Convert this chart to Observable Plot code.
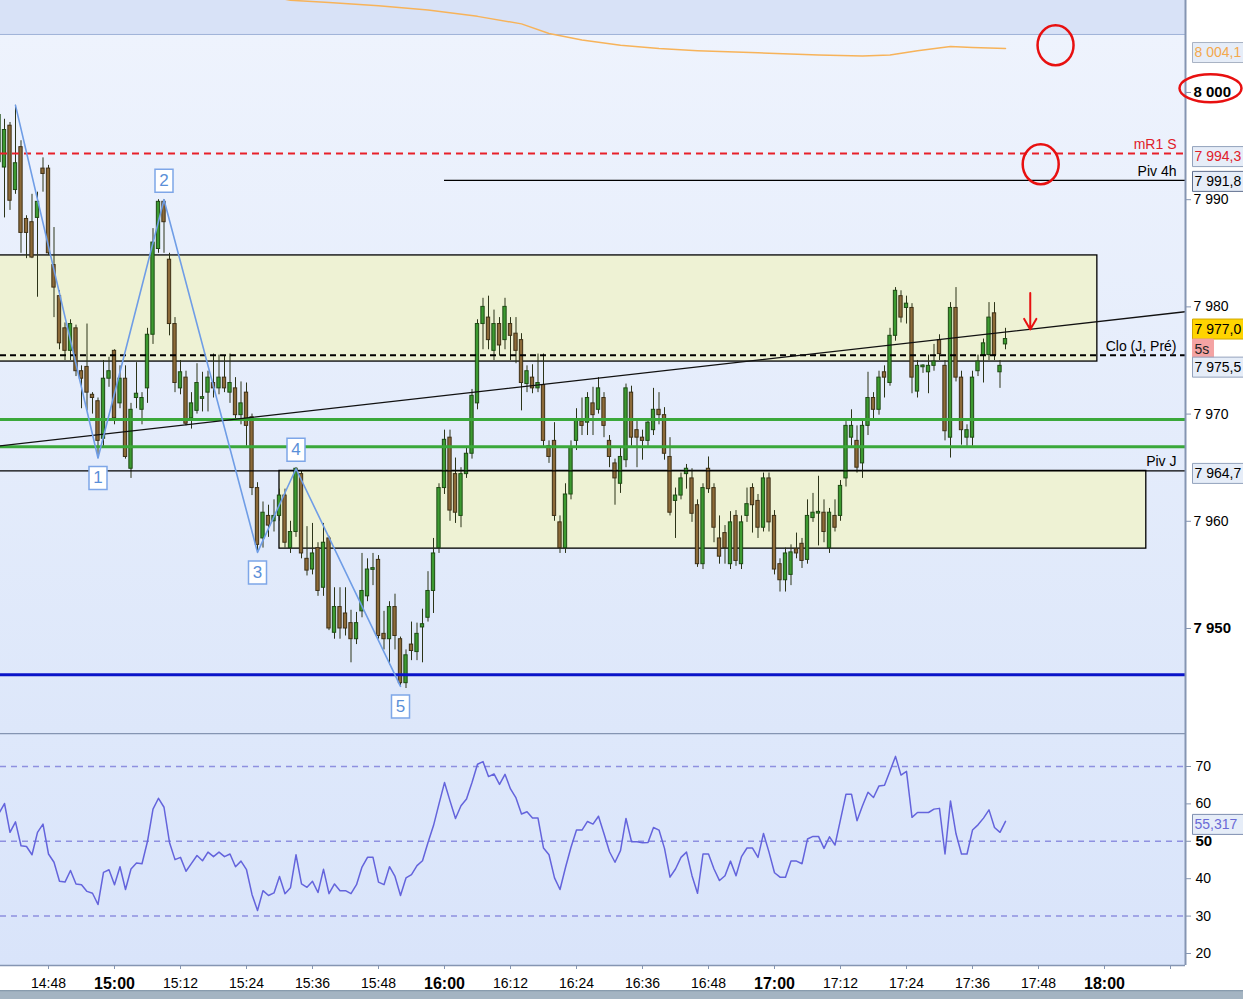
<!DOCTYPE html>
<html><head><meta charset="utf-8">
<script src="https://cdn.jsdelivr.net/npm/d3@7"></script>
<script src="https://cdn.jsdelivr.net/npm/@observablehq/plot@0.6"></script>
<style>
html,body{margin:0;padding:0;background:#fff;overflow:hidden}
#wrap{width:1243px;height:999px;position:relative}
#wrap svg{display:block}
</style></head><body><div id="wrap"></div>
<script>
// ---------- DATA ----------
// 1-minute candles, first candle at 14:39 (minutes counted from 15:00)
const firstMinute = -21;
const opens = [
7993.5,7993,7996.9,7990.9,7994.9,7988.2,7987.9,7988.3,7992.9,7992.9,
7983.9,7981,7978,7975.9,7978,7974,7974.4,7971.8,7971.2,7967.7,
7973.3,7975.9,7971,7973.3,7964.9,7971.5,7970.4,7972.4,7977.4,7985.4,
7989.8,7984.4,7978.4,7972.4,7973.4,7969.6,7970.3,7971.5,7972,7972.9,
7972.4,7973.4,7972,7972.4,7969.9,7972,7969.7,7963.1,7958.4,7960.5,
7960,7960.5,7962.4,7957.5,7959,7964.4,7956.5,7955.5,7957.5,7953.8,
7958.4,7949.6,7952,7951.4,7950.5,7949,7951.6,7953,7955.5,7956.4,
7949.5,7949,7952,7949,7944.9,7948.5,7947.8,7950.1,7951,7953.5,
7957.5,7963.1,7967.8,7964.4,7960.5,7964.4,7966.3,7971,7978.4,7979,
7975.9,7978.4,7976.9,7978.4,7977.5,7976.9,7972.8,7973.4,7972.4,7972.7,
7967,7967.5,7959.9,7957.5,7962.5,7967.5,7969.3,7969.2,7971,7970.4,
7971.5,7967.5,7965.4,7963.5,7965.7,7972,7968.5,7967.8,7967.5,7968.5,
7970.4,7969.9,7966,7961.9,7962.4,7964.4,7964,7961.5,7956,7964.9,
7963.1,7958.4,7958.9,7956,7960.5,7956,7960.5,7963.1,7961.9,7959.4,
7964,7960.5,7956,7954.5,7955,7957.4,7957.9,7956.4,7960.3,7960.8,
7960.8,7957.5,7960.5,7960.5,7964,7967.8,7967.5,7965.4,7968.9,7971.5,
7970.4,7973.9,7972.9,7977.3,7981,7979.9,7979.9,7972.1,7974.4,7973.9,
7974.5,7976.9,7974.5,7967.8,7979.9,7973.4,7967.8,7967.8,7974,7975.5,
7975.5,7979.4,7973.9,7976.5];
const highs = [
7998.5,7997.5,7997.2,7998.8,7995.5,7988.5,7990.5,7990.7,7993.9,7993.2,
7987.4,7981.5,7978.5,7978.8,7978.3,7974.5,7978.4,7972,7971.5,7975,
7975.3,7976,7974.5,7974.5,7971,7974.8,7972,7978,7987.3,7990,
7990,7985,7979,7975,7974,7972,7974.7,7973.9,7974,7975.6,
7975.5,7975.4,7975.6,7973.4,7973,7972.9,7970,7963.6,7961.8,7961.5,
7962,7963,7963,7960,7965,7964.7,7959.5,7959.8,7958,7959.8,
7958.6,7953.8,7953.8,7953.8,7951.7,7951.5,7957,7956.5,7957,7956.8,
7951.6,7952.5,7953.2,7949.2,7948,7950.6,7950.5,7951.8,7955.3,7958.4,
7963.5,7968.5,7968.5,7965.9,7965,7966.8,7972.3,7978.8,7980.8,7981,
7979.7,7979,7980.8,7979,7979,7977.5,7974.5,7974.6,7975.6,7975.6,
7967.5,7969.2,7960.5,7963.5,7967.5,7970.5,7971.5,7972,7972.5,7973.4,
7972,7968,7965.8,7966.8,7972.8,7972.6,7969.3,7968.5,7969.5,7972.4,
7972,7970.6,7967.8,7963.1,7964.5,7965.3,7964.9,7962,7963.5,7966,
7963.5,7960.5,7959.6,7960.9,7961,7960.5,7963.1,7963.5,7962.5,7964.5,
7964.5,7961,7956.5,7957.5,7957.8,7958.9,7958.4,7962,7962.6,7964.2,
7962,7961.2,7962,7963.8,7969.3,7970.4,7968.9,7969.5,7973.9,7972,
7974,7974.5,7978,7981.8,7981.5,7981,7980.3,7975,7974.6,7975.5,
7976.5,7977.4,7975,7980.4,7981.8,7974,7969,7974,7975.5,7977,
7980.4,7980.4,7975,7978];
const lows = [
7990,7988.3,7989,7990.5,7985,7984.5,7984.5,7980.9,7990.7,7984.8,
7979,7976,7975,7975,7973.5,7970.5,7970.3,7970,7965.9,7967,
7972.5,7969,7970.5,7965.8,7964,7970.5,7969,7971,7976.5,7985,
7985,7977.3,7972,7971.8,7968.9,7968.6,7970,7970.2,7970.2,7971.5,
7971.8,7972,7971,7969.5,7969,7967,7962.4,7957.1,7957.5,7958.5,
7959,7960,7957.5,7957,7958.5,7956.5,7954.9,7955,7953,7953,
7949.8,7949,7949,7949.3,7946.8,7948.5,7951,7952.5,7954,7949,
7948,7946.6,7948,7944.6,7944.4,7947,7947,7946.8,7950.6,7951.4,
7957,7962.5,7960,7959.8,7959.4,7964,7965.8,7970.4,7976,7976,
7975,7975.4,7976,7975,7974.7,7970.3,7972,7971.9,7972,7967,
7965.4,7960,7957,7957,7962,7966.6,7968,7968,7968,7970,
7967.8,7965,7961.5,7962.6,7965,7967,7965,7965.7,7967,7968,
7969,7965.7,7960.5,7958.4,7962,7963,7959.9,7955.7,7955.5,7962.6,
7958,7956,7956,7955.5,7955.8,7955.5,7959.9,7958.9,7958.4,7959,
7959,7955,7953.4,7953.4,7954,7956.5,7955.6,7956,7959.9,7957.7,
7958,7957,7959,7960,7963.2,7967,7964.5,7964,7968,7969.5,
7969.9,7971.5,7972.6,7976.8,7978.5,7978.4,7971.9,7971.5,7973.8,7971.9,
7974,7975,7967.5,7965.9,7973,7967.1,7967,7967,7973.5,7972.9,
7975,7975,7972.4,7976];
const closes = [
7997.9,7996.5,7989.9,7993.4,7986.9,7986.9,7984.6,7989.8,7992.4,7985,
7981.8,7976.6,7975.9,7978.4,7974,7973.3,7972,7971.5,7967.5,7973.3,
7974,7969.6,7973.3,7966,7970.4,7971.9,7971.5,7977.4,7986,7989.8,
7987.9,7978.4,7972.9,7973.9,7969.1,7971,7972.9,7971.5,7973.4,7972.4,
7973.4,7972.4,7972.9,7969.9,7971,7968.9,7963.1,7957.8,7960.8,7959.6,
7960.5,7962.4,7958,7959,7964.9,7957,7955.4,7957,7953.5,7958,
7950,7952,7950,7950,7949,7950.5,7953.5,7955.5,7955.6,7949.3,
7949,7952,7949.3,7944.9,7947.5,7947.9,7949.5,7950.4,7953.5,7957,
7963.1,7967.6,7961,7960.8,7964.4,7966.3,7971.7,7978.4,7980,7976.9,
7978.4,7976.4,7980,7977.3,7975.9,7972.9,7974,7972.4,7972.9,7967.5,
7966,7960.5,7957.5,7962.5,7966.9,7969.4,7968.9,7971.5,7969.9,7972.4,
7968.9,7966,7964,7966,7972.4,7967.8,7967.8,7967.5,7969.2,7970.4,
7969.9,7966.3,7960.8,7962.4,7964,7964.9,7960.7,7956,7963.1,7963,
7959.4,7956.7,7957.5,7959.9,7956.3,7959.9,7961.6,7961.5,7959.4,7964,
7959.9,7955.5,7954.5,7957,7957.1,7957,7956.3,7960.5,7960.8,7960.8,
7959,7960.8,7959.4,7963.3,7968.9,7968.9,7965,7968.9,7971.5,7970.4,
7973.4,7973.4,7977.3,7981.5,7979,7980.3,7973.4,7974.5,7974.5,7974.5,
7974.9,7975.6,7968.4,7979.9,7973.4,7968.5,7968.5,7973.4,7974.9,7976.6,
7979,7975.5,7974.5,7977.0];
const rsiValues = [
57.5,60.1,52.4,55.2,48.8,48.6,46.4,52.4,54.6,46.6,
44.4,39.3,39.1,42.2,38.6,38.4,36.6,36.1,33.1,41.7,
42.4,38.4,43.2,37.1,42.6,44.2,44.0,50.0,58.6,61.5,
59.1,49.7,45.1,45.7,42.0,44.1,46.2,44.8,47.1,45.9,
47.1,45.9,46.6,43.2,44.7,42.4,35.8,31.5,36.8,35.5,
36.2,40.6,36.0,37.6,46.4,38.6,37.7,39.3,36.3,42.5,
36.0,38.6,36.8,36.8,36.0,38.4,43.1,45.7,45.7,39.1,
38.4,43.2,40.6,35.5,40.2,41.1,43.5,44.8,49.7,54.2,
60.0,65.7,60.8,56.1,59.5,61.3,65.7,70.6,71.3,67.3,
68.0,65.2,67.9,64.0,61.6,57.3,57.9,56.2,56.2,48.2,
46.4,40.2,37.1,43.0,48.4,53.0,53.0,55.3,54.6,56.7,
52.0,47.2,44.4,47.5,56.1,49.9,49.9,49.6,49.7,53.7,
53.0,48.1,40.4,42.6,45.7,47.1,40.8,36.1,46.6,46.6,
42.6,39.5,40.8,44.7,40.8,45.9,48.2,48.2,45.7,52.1,
47.1,41.6,40.4,40.4,44.7,44.7,44.0,50.6,51.3,51.3,
48.1,51.2,49.0,55.8,62.6,62.6,55.5,59.5,63.1,61.7,
64.8,65.0,68.8,72.7,67.7,68.7,56.4,57.7,57.7,57.7,
58.6,58.8,46.6,60.8,52.0,46.6,46.6,53.0,54.4,56.2,
58.4,53.7,52.4,55.317];

// moving average (orange) – minutes after 15:00 and values
const maMinutes = [26,32,39,48,57,66,74,79,85,92,99,106,117,128,136,141,146,152,156,162];
const maValues  = [8009.2,8008.6,8008.4,8008.1,8007.7,8007.1,8006.4,8005.5,8004.9,8004.4,8004.1,8003.9,8003.7,8003.5,8003.4,8003.5,8003.9,8004.3,8004.2,8004.1];

// wave count zigzag
const zigMinutes = [-18,-3,9,26,33,52];
const zigPrices  = [7998.8,7965.9,7990.0,7957.1,7964.9,7944.6];
const zigLabels  = ["","1","2","3","4","5"];

// levels
const levelNames  = ["mR1 S","Piv 4h","Clo (J, Pré)","Piv J"];
const levelValues = [7994.3,7991.8,7975.5,7964.7];
const levelStartMin = [null,60,null,null];
const supportGreen = [7969.5,7966.95];
const supportBlue  = [7945.68];
const bandTop = 8005.41;

// zones
const zoneTops = [7984.8,7964.7];
const zoneBottoms = [7974.9,7957.45];
const zoneStartMin = [-30,30];
const zoneEndMin = [178.7,187.6];

// trend line anchors
const trendMinutes = [-21,195];
const trendPrices = [7967.03,7979.57];

// ticks
const priceTicks = [7990,7980,7970,7960];
const priceTicksBold = [8000,7950];
const rsiTicks = [70,60,40,30,20];
const rsiTicksBold = [50];
const rsiLevels = [70,50,30];
const timeTicks = ["14:48","15:12","15:24","15:36","15:48","16:12","16:24","16:36","16:48","17:12","17:24","17:36","17:48"];
const timeTicksBold = ["15:00","16:00","17:00","18:00"];
const timeTicksBlank = ["18:12"];

// ---------- HELPERS ----------
const loc = d3.formatLocale({decimal: ",", thousands: " ", grouping: [3], currency: ["", ""]});
const fmt0 = loc.format(",.0f"), fmt1 = loc.format(",.1f"), fmt3 = loc.format(",.3f");
const base = new Date(2018, 0, 15, 15, 0, 0);
const T = m => new Date(base.getTime() + m * 60000);
const parseHM = s => { const [h, mi] = s.split(":").map(Number); return new Date(2018, 0, 15, h, mi, 0); };
const xDomain = [T(-114 / 5.5), T((1185 - 114) / 5.5)];

const candles = opens.map((o, i) => {
  const c = closes[i], m = firstMinute + i;
  let lo = Math.min(o, c), hi = Math.max(o, c);
  if (hi - lo < 0.15) { const mid = (hi + lo) / 2; lo = mid - 0.08; hi = mid + 0.08; }
  return {t: T(m), tl: T(m - 0.3), tr: T(m + 0.3), o, h: highs[i], l: lows[i], c, lo, hi, up: c >= o};
});
const rsiData = rsiValues.map((v, i) => ({t: T(firstMinute + i), v}));
const maData = maMinutes.map((m, i) => ({t: T(m), v: maValues[i]}));
const zigData = zigMinutes.map((m, i) => ({t: T(m), p: zigPrices[i], label: zigLabels[i], low: i > 0 && zigPrices[i] < zigPrices[i - 1]}));
const zigLows = zigData.filter(d => d.label && d.low);
const zigHighs = zigData.filter(d => d.label && !d.low);
const zones = zoneTops.map((top, i) => ({x1: T(zoneStartMin[i]), x2: T(zoneEndMin[i]), y1: zoneBottoms[i], y2: top}));
const trend = trendMinutes.map((m, i) => ({t: T(m), p: trendPrices[i]}));
const levels = levelNames.map((name, i) => ({name, v: levelValues[i], x1: levelStartMin[i] == null ? xDomain[0] : T(levelStartMin[i]), x2: xDomain[1]}));

const rectSym = (w, h) => ({draw(ctx) { ctx.rect(-w / 2, -h / 2, w, h); }});
const ellSym = (rx, ry) => ({draw(c) {
  const k = 0.5523, kx = rx * k, ky = ry * k;
  c.moveTo(rx, 0); c.bezierCurveTo(rx, ky, kx, ry, 0, ry); c.bezierCurveTo(-kx, ry, -rx, ky, -rx, 0);
  c.bezierCurveTo(-rx, -ky, -kx, -ry, 0, -ry); c.bezierCurveTo(kx, -ry, rx, -ky, rx, 0); c.closePath();
}});
function tag(v, text, {dy = 0, fill = "#e6edf8", stroke = "#93a2bc", color = "#000", w = 52, h = 20} = {}) {
  return [
    Plot.dot([v], {y: d => d, frameAnchor: "right", dx: 7 + w / 2, dy, symbol: rectSym(w, h), fill, stroke, strokeWidth: 1}),
    Plot.text([v], {y: d => d, text: () => text, frameAnchor: "right", dx: 9, dy, textAnchor: "start", fill: color, fontSize: 14})
  ];
}
const FONT = "'Liberation Sans', Arial, sans-serif";
const GREEN = "#3c9a30", BROWN = "#8c6a38";

// ---------- PRICE PANEL ----------
const last = candles[candles.length - 1];
const chart1 = Plot.plot({
  width: 1243, height: 733,
  marginTop: 0, marginBottom: 0, marginLeft: 0, marginRight: 58,
  x: {type: "time", domain: xDomain, axis: null},
  y: {domain: [7940.205, 8008.58]},
  style: {
    fontFamily: FONT, fontSize: "14px", color: "#000",
    background: "linear-gradient(to right, rgba(255,255,255,0) 1185px, #ffffff 1185px), linear-gradient(to bottom, #d8e2f7 0px, #d8e2f7 34px, #eef3fd 34px, #dde7fa 733px)"
  },
  marks: [
    Plot.ruleY([bandTop], {stroke: "#9fb2d8", strokeWidth: 1}),
    Plot.rect(zones, {x1: "x1", x2: "x2", y1: "y1", y2: "y2", fill: "#eef2d4", stroke: "#000", strokeWidth: 1.3, clip: true}),
    Plot.ruleX(candles, {x: "t", y1: "l", y2: "h", stroke: "#2c3418", strokeWidth: 1, clip: true}),
    Plot.rect(candles, {x1: "tl", x2: "tr", y1: "lo", y2: "hi", fill: d => d.up ? GREEN : BROWN, stroke: d => d.up ? "#1e4a14" : "#3e3016", strokeWidth: 1, clip: true}),
    Plot.ruleY(supportGreen, {stroke: "#3aa83a", strokeWidth: 3}),
    Plot.ruleY(supportBlue, {stroke: "#0a14c8", strokeWidth: 3}),
    Plot.ruleY(levels.filter(d => d.name === "mR1 S"), {y: "v", stroke: "#e8202a", strokeWidth: 2, strokeDasharray: "7,5"}),
    Plot.ruleY(levels.filter(d => d.name === "Clo (J, Pré)"), {y: "v", stroke: "#000", strokeWidth: 2, strokeDasharray: "6,4"}),
    Plot.ruleY(levels.filter(d => d.name.startsWith("Piv")), {y: "v", x1: "x1", x2: "x2", stroke: "#000", strokeWidth: 1.1}),
    Plot.line(trend, {x: "t", y: "p", stroke: "#111", strokeWidth: 1.3, clip: true}),
    Plot.line(maData, {x: "t", y: "v", stroke: "#f7b35a", strokeWidth: 1.5, clip: true}),
    Plot.line(zigData, {x: "t", y: "p", stroke: "#6f9de6", strokeWidth: 1.6}),
    Plot.dot(zigLows, {x: "t", y: "p", symbol: rectSym(18, 23), fill: "#fff", stroke: "#7ea6e8", strokeWidth: 1.5, dy: 20}),
    Plot.dot(zigHighs, {x: "t", y: "p", symbol: rectSym(18, 23), fill: "#fff", stroke: "#7ea6e8", strokeWidth: 1.5, dy: -19}),
    Plot.text(zigLows, {x: "t", y: "p", text: "label", dy: 20, fill: "#5a8fd8", fontSize: 17}),
    Plot.text(zigHighs, {x: "t", y: "p", text: "label", dy: -19, fill: "#5a8fd8", fontSize: 17}),
    Plot.text(levels, {y: "v", text: "name", frameAnchor: "right", dx: -9, dy: -9, textAnchor: "end", fill: d => d.name === "mR1 S" ? "#e0202a" : "#000", fontSize: 14}),
    Plot.ruleX([xDomain[1]], {stroke: "#8595b2", strokeWidth: 2}),
    Plot.axisY({anchor: "right", ticks: priceTicks, tickFormat: fmt0, tickSize: 5, tickPadding: 3, fontSize: 14, stroke: "#8595b2", fill: "#000", label: null}),
    Plot.axisY({anchor: "right", ticks: priceTicksBold, tickFormat: fmt0, tickSize: 5, tickPadding: 3, fontSize: 15, fontWeight: "bold", stroke: "#8595b2", fill: "#000", label: null}),
    ...tag(maValues[maValues.length - 1], fmt1(maValues[maValues.length - 1]), {dy: 4, color: "#f4a84c", stroke: "#a8b2c4"}),
    ...tag(levelValues[0], fmt1(levelValues[0]), {dy: 3, color: "#e0202a"}),
    ...tag(levelValues[1], fmt1(levelValues[1]), {dy: 1, stroke: "#5f6f8e"}),
    ...tag(last.c, fmt1(last.c), {dy: -10, fill: "#ffd400", stroke: "#d0a800"}),
    ...tag(last.c, "5s", {dy: 10, fill: "#f4a3a3", stroke: "#f4a3a3", w: 21, color: "#222"}),
    ...tag(levelValues[2], fmt1(levelValues[2]), {dy: 12}),
    ...tag(levelValues[3], fmt1(levelValues[3]), {dy: 2.5}),
    // hand-drawn red annotations
    Plot.dot([{t: T(171.1), p: 8004.4}], {x: "t", y: "p", symbol: ellSym(18, 20), fill: "none", stroke: "#e81010", strokeWidth: 2.5}),
    Plot.dot([{t: T(168.4), p: 7993.3}], {x: "t", y: "p", symbol: ellSym(18, 20), fill: "none", stroke: "#e81010", strokeWidth: 2.5}),
    Plot.dot([8000.4], {y: d => d, frameAnchor: "right", dx: 25, symbol: ellSym(31, 14), fill: "none", stroke: "#e81010", strokeWidth: 2.5}),
    Plot.arrow([{t: T(166.5), a: 7981.3, b: 7977.9}], {x: "t", y1: "a", y2: "b", stroke: "#e81010", strokeWidth: 2, headLength: 10})
  ]
});

// ---------- RSI PANEL + TIME AXIS ----------
const chart2 = Plot.plot({
  width: 1243, height: 266,
  marginTop: 0, marginBottom: 34, marginLeft: 0, marginRight: 58,
  x: {type: "time", domain: xDomain},
  y: {domain: [16.79, 78.82]},
  style: {
    fontFamily: FONT, fontSize: "14px", color: "#000",
    background: "linear-gradient(to bottom, rgba(0,0,0,0) 257px, #7f93a6 257px, #a4b4c2 259px), linear-gradient(to right, rgba(255,255,255,0) 1185px, #ffffff 1185px), linear-gradient(to bottom, #dee8fb 0px, #d9e4fa 232px, #ffffff 232px)"
  },
  marks: [
    Plot.ruleY(rsiLevels, {stroke: "#8e90e0", strokeWidth: 1.5, strokeDasharray: "6,5"}),
    Plot.line(rsiData, {x: "t", y: "v", stroke: "#6464dc", strokeWidth: 1.5, clip: true}),
    Plot.ruleY([78.82], {stroke: "#8595b2", strokeWidth: 1.5}),
    Plot.ruleY([16.79], {stroke: "#8595b2", strokeWidth: 1.5}),
    Plot.ruleX([xDomain[1]], {stroke: "#8595b2", strokeWidth: 2}),
    Plot.axisY({anchor: "right", ticks: rsiTicks, tickFormat: fmt0, tickSize: 5, tickPadding: 5, fontSize: 14, stroke: "#8595b2", fill: "#000", label: null}),
    Plot.axisY({anchor: "right", ticks: rsiTicksBold, tickFormat: fmt0, tickSize: 5, tickPadding: 5, fontSize: 15, fontWeight: "bold", stroke: "#8595b2", fill: "#000", label: null}),
    Plot.axisX({anchor: "bottom", ticks: timeTicks.map(parseHM), tickFormat: d3.timeFormat("%H:%M"), tickSize: 4, tickPadding: 9, fontSize: 14, stroke: "#8595b2", fill: "#000", label: null}),
    Plot.axisX({anchor: "bottom", ticks: timeTicksBold.map(parseHM), tickFormat: d3.timeFormat("%H:%M"), tickSize: 4, tickPadding: 8, fontSize: 16, fontWeight: "bold", stroke: "#8595b2", fill: "#000", label: null}),
    Plot.axisX({anchor: "bottom", ticks: timeTicksBlank.map(parseHM), tickFormat: () => "", tickSize: 4, stroke: "#8595b2", label: null}),
    ...tag(rsiValues[rsiValues.length - 1], fmt3(rsiValues[rsiValues.length - 1]), {dy: 3, color: "#6a6ad6", stroke: "#7f8fb0"})
  ]
});

const wrap = document.getElementById("wrap");
wrap.appendChild(chart1);
wrap.appendChild(chart2);
</script>
</body></html>
